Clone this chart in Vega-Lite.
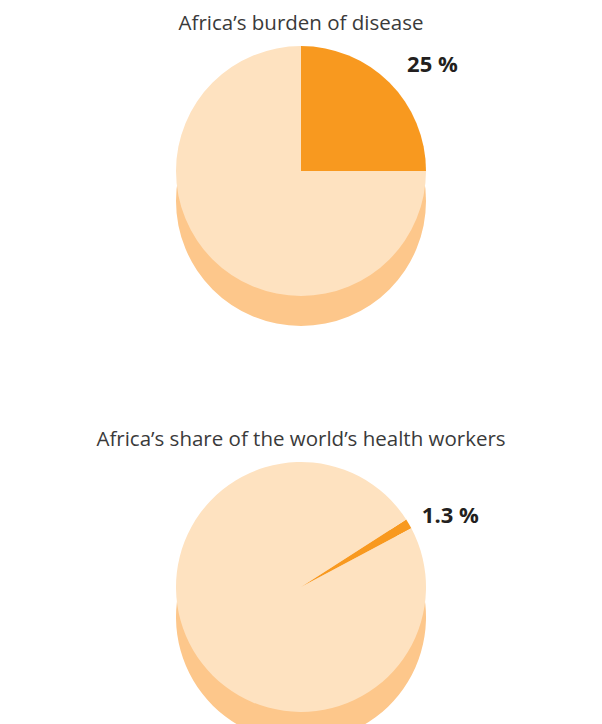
{
  "$schema": "https://vega.github.io/schema/vega-lite/v6.json",
  "padding": {"top": 13, "left": 0, "right": 0, "bottom": 0},
  "background": "white",
  "spacing": 103,
  "config": {
    "view": {"stroke": null},
    "title": {"font": "Open Sans", "fontWeight": 400, "fontSize": 20.5, "color": "#3a3a3a", "anchor": "middle", "offset": 12},
    "text": {"font": "Open Sans"}
  },
  "vconcat": [
    {
      "width": 602,
      "height": 250,
      "title": {"text": "Africa’s burden of disease"},
      "data": {"values": [
        {"part": "Africa", "value": 25, "label": "25 %"},
        {"part": "Rest of the world", "value": 75, "label": ""}
      ]},
      "encoding": {
        "theta": {"field": "value", "type": "quantitative", "stack": true, "scale": {"range": [0, 6.2832]}},
        "order": {"field": "part", "type": "nominal", "sort": "ascending"}
      },
      "layer": [
        {"mark": {"type": "arc", "outerRadius": 125, "yOffset": 30, "color": "#FDC78B"}},
        {"mark": {"type": "arc", "outerRadius": 125},
         "encoding": {"color": {"field": "part", "type": "nominal", "legend": null,
           "scale": {"domain": ["Africa", "Rest of the world"], "range": ["#F8991F", "#FEE2C0"]}}}},
        {"mark": {"type": "text", "radius": 150, "fontSize": 22, "fontWeight": "bold", "color": "#231F20", "align": "left"},
         "encoding": {"text": {"field": "label"}, "detail": {"field": "part"}}}
      ]
    },
    {
      "width": 602,
      "height": 250,
      "title": {"text": "Africa’s share of the world’s health workers"},
      "data": {"values": [
        {"part": "Africa", "value": 1.3, "label": "1.3 %"},
        {"part": "Rest of the world", "value": 98.7, "label": ""}
      ]},
      "encoding": {
        "theta": {"field": "value", "type": "quantitative", "stack": true, "scale": {"range": [1.0, 7.2832]}},
        "order": {"field": "part", "type": "nominal", "sort": "ascending"}
      },
      "layer": [
        {"mark": {"type": "arc", "outerRadius": 125, "yOffset": 30, "color": "#FDC78B"}},
        {"mark": {"type": "arc", "outerRadius": 125},
         "encoding": {"color": {"field": "part", "type": "nominal", "legend": null,
           "scale": {"domain": ["Africa", "Rest of the world"], "range": ["#F8991F", "#FEE2C0"]}}}},
        {"mark": {"type": "text", "radius": 140, "fontSize": 22, "fontWeight": "bold", "color": "#231F20", "align": "left"},
         "encoding": {"text": {"field": "label"}, "detail": {"field": "part"}}}
      ]
    }
  ]
}
